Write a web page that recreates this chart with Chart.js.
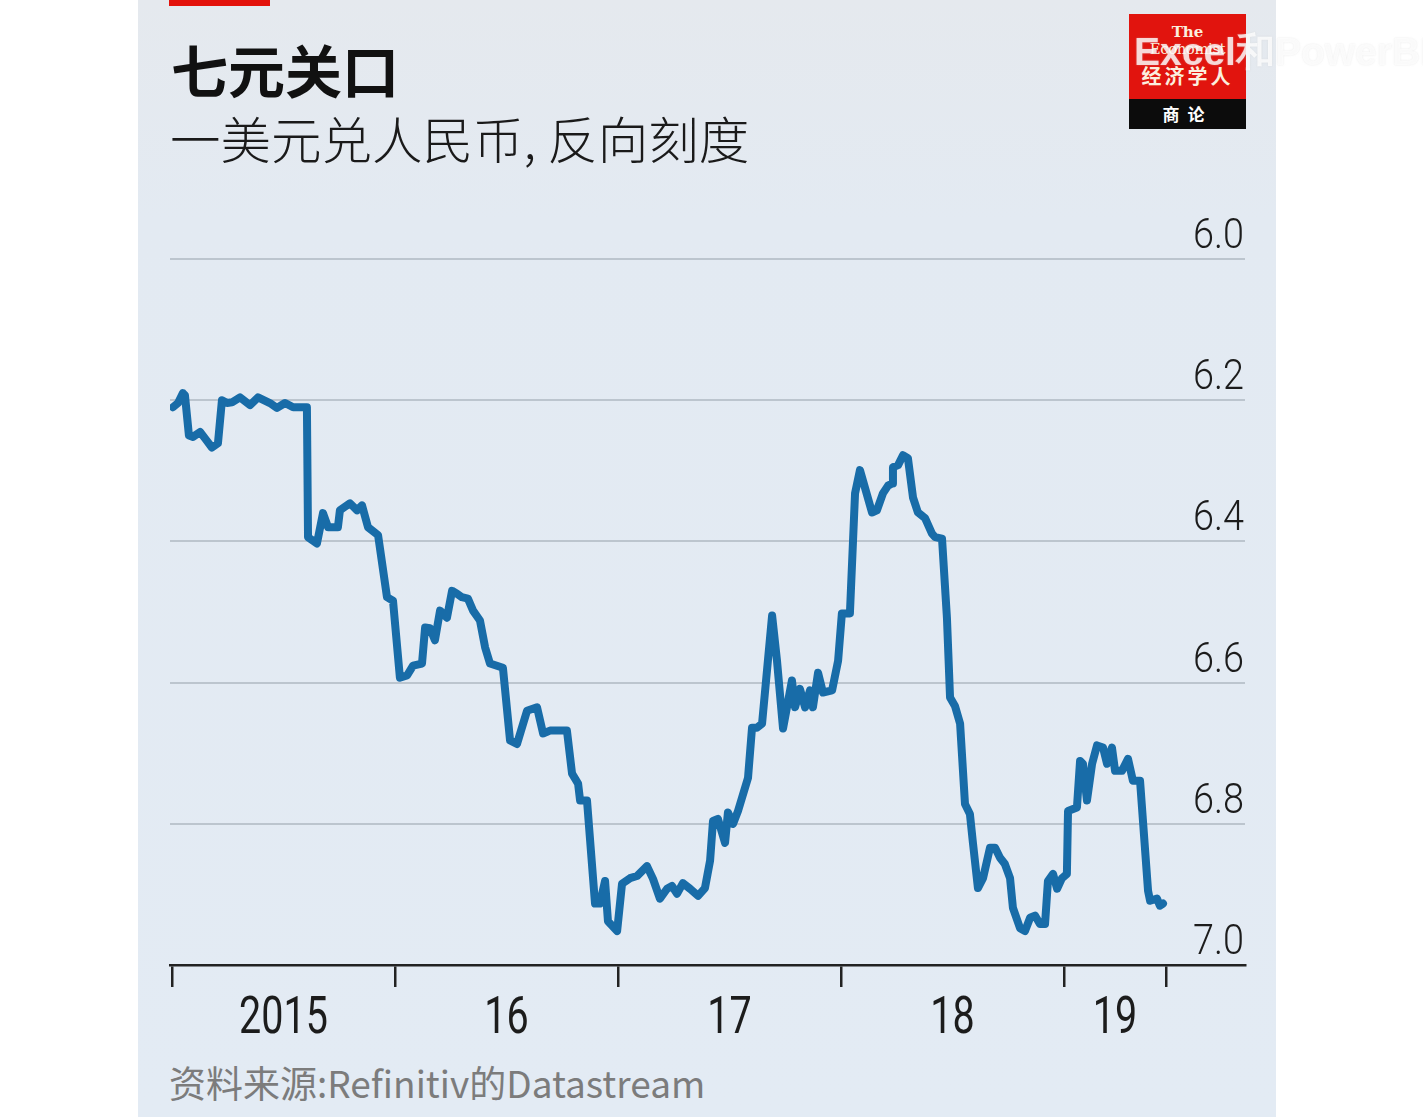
<!DOCTYPE html>
<html>
<head>
<meta charset="utf-8">
<script src="https://cdn.jsdelivr.net/npm/chart.js@4.4.1/dist/chart.umd.min.js"></script>
<style>
  html, body { margin:0; padding:0; width:1423px; height:1117px; overflow:hidden; background:#ffffff; }
  #panel { position:absolute; left:138px; top:0; width:1138px; height:1117px;
           background:linear-gradient(#e5e9ee 0px, #e3eaf2 220px, #e3ebf4 1117px); }
  #redbar { position:absolute; left:169px; top:0; width:101px; height:6px; background:#e3120b; }
  .t { position:absolute; white-space:nowrap; font-family:"Noto Sans CJK SC","Noto Sans",sans-serif; }
  #title { left:171px; top:40px; font-size:57px; font-weight:700; color:#111; line-height:1; }
  #subtitle { left:170px; top:112px; font-size:50.5px; font-weight:300; color:#1a1a1a; line-height:1; }
  #source { left:169px; top:1064px; font-size:37px; font-weight:400; color:#7c7c7c; line-height:1; }
  #logo { position:absolute; left:1129px; top:14px; width:117px; height:115px; }
  #logoRed { position:absolute; left:0; top:0; width:117px; height:85px; background:#e1140e; }
  #logoBlack { position:absolute; left:0; top:85px; width:117px; height:30px; background:#0c0c0c; }
  .lt { position:absolute; width:117px; text-align:center; color:#fbeede; white-space:nowrap; line-height:1; }
  #canvasWrap { position:absolute; left:0; top:0; width:1423px; height:1117px; }
  #wm { position:absolute; left:1134px; top:32px; font-family:"Liberation Sans",Arial,sans-serif; font-weight:700;
        font-size:39px; color:rgba(255,255,255,0.78); white-space:nowrap; line-height:1;
        text-shadow:0 0 2px rgba(200,200,200,0.4); }
</style>
</head>
<body>
<div id="panel"></div>
<div id="redbar"></div>
<div id="title" class="t">七元关口</div>
<div id="subtitle" class="t">一美元兑人民币, 反向刻度</div>
<div id="source" class="t">资料来源:Refinitiv的Datastream</div>
<div id="logo">
  <div id="logoRed"></div>
  <div id="logoBlack"></div>
  <div class="lt" style="top:11px;font-family:'DejaVu Serif',serif;font-size:15px;font-weight:700;">The</div>
  <div class="lt" style="top:28px;font-family:'DejaVu Serif',serif;font-size:15px;letter-spacing:-0.5px;">Economist</div>
  <div class="lt" style="top:52px;font-family:'Noto Sans CJK SC',sans-serif;font-size:20px;font-weight:700;letter-spacing:3px;">经济学人</div>
  <div class="lt" style="top:91px;font-family:'Noto Sans CJK SC',sans-serif;font-size:17px;font-weight:700;letter-spacing:8px;color:#fff;">商论</div>
</div>
<div id="canvasWrap"><canvas id="c" width="1423" height="1117"></canvas></div>
<div id="wm">Excel和PowerBI</div>
<script>
// ---- Data (fractional year, USD/CNY) ----
const dates = [
  2015.004,2015.027,2015.049,2015.058,2015.076,2015.094,2015.126,2015.148,2015.179,2015.206,
  2015.224,2015.247,2015.269,2015.305,2015.350,2015.386,2015.439,2015.471,2015.507,2015.543,
  2015.605,2015.610,2015.650,2015.677,2015.700,2015.744,2015.753,2015.798,2015.830,2015.852,
  2015.879,2015.924,2015.964,2015.991,2016.022,2016.054,2016.081,2016.121,2016.135,2016.157,
  2016.179,2016.202,2016.233,2016.256,2016.278,2016.300,2016.327,2016.350,2016.381,2016.404,
  2016.426,2016.484,2016.516,2016.547,2016.592,2016.637,2016.664,2016.695,2016.771,2016.794,
  2016.821,2016.830,2016.861,2016.897,2016.919,2016.942,2016.955,2016.996,2017.018,2017.054,
  2017.085,2017.130,2017.157,2017.188,2017.220,2017.242,2017.265,2017.291,2017.323,2017.359,
  2017.390,2017.413,2017.426,2017.448,2017.480,2017.493,2017.516,2017.538,2017.583,2017.601,
  2017.623,2017.646,2017.691,2017.713,2017.740,2017.780,2017.794,2017.816,2017.839,2017.861,
  2017.874,2017.897,2017.919,2017.960,2017.987,2018.004,2018.040,2018.063,2018.085,2018.139,
  2018.161,2018.188,2018.211,2018.229,2018.233,2018.256,2018.278,2018.300,2018.323,2018.345,
  2018.377,2018.408,2018.422,2018.453,2018.475,2018.489,2018.511,2018.534,2018.556,2018.578,
  2018.592,2018.614,2018.637,2018.668,2018.691,2018.713,2018.735,2018.758,2018.771,2018.803,
  2018.825,2018.848,2018.870,2018.892,2018.915,2018.928,2018.951,2018.969,2018.991,2019.013,
  2019.018,2019.058,2019.072,2019.085,2019.103,2019.126,2019.148,2019.175,2019.193,2019.215,
  2019.229,2019.260,2019.287,2019.309,2019.341,2019.377,2019.386,2019.417,2019.430,2019.444
];
const usdcny = [
  6.210,6.204,6.190,6.193,6.250,6.252,6.245,6.254,6.267,6.261,
  6.200,6.204,6.203,6.196,6.207,6.196,6.204,6.211,6.204,6.210,
  6.210,6.394,6.403,6.360,6.380,6.380,6.356,6.346,6.356,6.349,
  6.380,6.391,6.479,6.484,6.593,6.590,6.576,6.573,6.522,6.523,
  6.540,6.498,6.508,6.470,6.474,6.479,6.481,6.498,6.512,6.550,
  6.573,6.579,6.682,6.687,6.640,6.635,6.672,6.668,6.668,6.729,
  6.743,6.767,6.767,6.913,6.913,6.881,6.938,6.952,6.885,6.877,
  6.874,6.860,6.878,6.906,6.892,6.888,6.899,6.884,6.892,6.902,
  6.891,6.852,6.796,6.793,6.827,6.784,6.800,6.782,6.735,6.664,
  6.664,6.658,6.505,6.569,6.665,6.597,6.635,6.609,6.635,6.611,
  6.635,6.586,6.614,6.611,6.569,6.502,6.502,6.332,6.299,6.359,
  6.356,6.332,6.321,6.318,6.295,6.292,6.278,6.282,6.338,6.359,
  6.367,6.389,6.394,6.396,6.508,6.621,6.633,6.658,6.772,6.786,
  6.828,6.891,6.877,6.834,6.834,6.848,6.857,6.877,6.919,6.948,
  6.952,6.933,6.930,6.942,6.942,6.881,6.871,6.892,6.877,6.871,
  6.782,6.777,6.711,6.715,6.767,6.715,6.689,6.692,6.715,6.692,
  6.725,6.725,6.708,6.739,6.739,6.895,6.909,6.906,6.916,6.913
];
const xTickValues = [2015, 2016, 2017, 2018, 2019, 2019.457];
const yearLabels = ['2015', '16', '17', '18', '19'];
const yTickValues = [6.0, 6.2, 6.4, 6.6, 6.8, 7.0];
const yTickLabels = ['6.0', '6.2', '6.4', '6.6', '6.8', '7.0'];

const points = dates.map((d, i) => ({ x: d, y: usdcny[i] }));

const labelPlugin = {
  id: 'econLabels',
  afterDraw(chart) {
    const ctx = chart.ctx;
    const xs = chart.scales.x, ys = chart.scales.y;
    const right = chart.chartArea.right;
    ctx.save();
    ctx.fillStyle = '#1c1c1c';
    ctx.textBaseline = 'alphabetic';
    ctx.font = '300 42px Roboto, "Liberation Sans", sans-serif';
    yTickValues.forEach((v, i) => {
      const py = ys.getPixelForValue(v);
      ctx.save();
      ctx.translate(right - 1, py - 11);
      ctx.scale(0.9, 1);
      ctx.textAlign = 'right';
      ctx.fillText(yTickLabels[i], 0, 0);
      ctx.restore();
    });
    ctx.font = '400 52px Roboto, "Liberation Sans", sans-serif';
    yearLabels.forEach((lab, i) => {
      const px = xs.getPixelForValue((xTickValues[i] + xTickValues[i + 1]) / 2);
      ctx.save();
      ctx.translate(px, chart.chartArea.bottom + 68);
      ctx.scale(0.76, 1);
      ctx.textAlign = 'center';
      ctx.fillText(lab, 0, 0);
      ctx.restore();
    });
    ctx.restore();
  }
};

const pxPerYear = 223;
new Chart(document.getElementById('c'), {
  type: 'line',
  data: {
    datasets: [{
      data: points,
      borderColor: '#186ca8',
      borderWidth: 8,
      pointRadius: 0,
      tension: 0,
      borderJoinStyle: 'round',
      borderCapStyle: 'round',
      fill: false
    }]
  },
  options: {
    responsive: false,
    animation: false,
    events: [],
    layout: { padding: { left: 170, right: 178, top: 259, bottom: 130 } },
    plugins: { legend: { display: false }, tooltip: { enabled: false }, title: { display: false } },
    scales: {
      x: {
        type: 'linear',
        min: 2015 - 2 / pxPerYear,
        max: 2015 + 1073 / pxPerYear,
        afterBuildTicks: (s) => { s.ticks = xTickValues.map(v => ({ value: v })); },
        ticks: { display: false },
        grid: { display: true, drawOnChartArea: false, drawTicks: true, tickLength: 22, color: '#222', lineWidth: 2.5 },
        border: { display: true, color: '#222', width: 2.5 }
      },
      y: {
        type: 'linear',
        reverse: true,
        min: 6.0,
        max: 7.0,
        afterBuildTicks: (s) => { s.ticks = yTickValues.map(v => ({ value: v })); },
        ticks: { display: false },
        grid: {
          display: true, drawTicks: false, lineWidth: 2,
          color: (c) => (c.tick && Math.abs(c.tick.value - 7.0) < 1e-6) ? 'rgba(0,0,0,0)' : '#bcc5ce'
        },
        border: { display: false }
      }
    }
  },
  plugins: [labelPlugin]
});
</script>
</body>
</html>
